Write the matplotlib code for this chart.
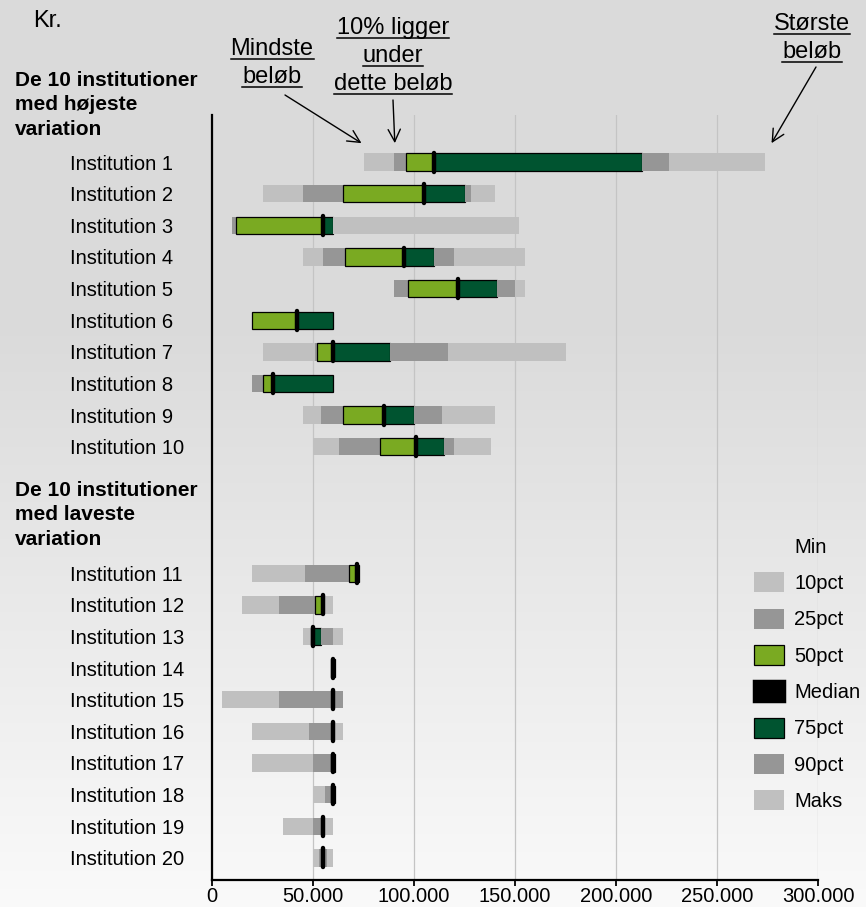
import numpy as np
import matplotlib
matplotlib.use('Agg')
import matplotlib.pyplot as plt
from matplotlib.patches import Patch
from matplotlib.lines import Line2D

plt.rcParams['font.family'] = ['Liberation Sans', 'DejaVu Sans']

# fordeling pr. institution (kr.)
institutioner = ['Institution %d' % i for i in range(1, 21)]
minimum = [75000, 25000, 10000, 45000, 90000, 20000, 25000, 20000, 45000, 50000,
           20000, 15000, 45000, 59000, 5000, 20000, 20000, 50000, 35000, 50000]
pct10 = [90000, 45000, 10000, 55000, 90000, 20000, 51000, 20000, 54000, 63000,
         46000, 33000, 49000, 59000, 33000, 48000, 50000, 56000, 50000, 53000]
pct25 = [96000, 65000, 12000, 66000, 97000, 20000, 52000, 25000, 65000, 83000,
         68000, 51000, 49000, 59000, 60000, 60000, 59000, 59000, 55000, 55000]
median = [110000, 105000, 55000, 95000, 122000, 42000, 60000, 30000, 85000, 101000,
          72000, 55000, 50000, 60000, 60000, 60000, 60000, 60000, 55000, 55000]
pct75 = [213000, 125000, 60000, 110000, 141000, 60000, 88000, 60000, 100000, 115000,
         73000, 55000, 54000, 61000, 60000, 60000, 61000, 61000, 55000, 55000]
pct90 = [226000, 128000, 60000, 120000, 150000, 60000, 117000, 60000, 114000, 120000,
         73000, 55000, 60000, 61000, 65000, 60000, 61000, 61000, 55000, 57000]
maks = [274000, 140000, 152000, 155000, 155000, 60000, 175000, 60000, 140000, 138000,
        73000, 60000, 65000, 61000, 65000, 65000, 61000, 61000, 60000, 60000]

x_ticks = [0, 50000, 100000, 150000, 200000, 250000, 300000]
x_labels = ['0', '50.000', '100.000', '150.000', '200.000', '250.000', '300.000']

LYS = '#c0c0c0'
MOERK = '#969696'
GROEN = '#7aaa22'
MGROEN = '#005430'

W, H = 866, 907
fig = plt.figure(figsize=(W / 100, H / 100), dpi=100)

# grå baggrund der lysner nedad
bg = fig.add_axes([0, 0, 1, 1], zorder=-10)
t = np.linspace(0, 1, 400)
shade = 0.855 + 0.125 * np.clip((t - 0.35) / 0.65, 0, 1)
bg.imshow(np.dstack([shade, shade, shade]).reshape(-1, 1, 3), aspect='auto',
          extent=[0, 1, 0, 1])
bg.axis('off')

ax = fig.add_axes([212 / W, 27 / H, 606 / W, 765 / H])
ax.set_facecolor('none')

ypos = np.array(list(range(10)) + list(range(13, 23)))
grenser = [np.array(v) for v in (minimum, pct10, pct25, median, pct75, pct90, maks)]
segmenter = [(LYS, 'none', 0), (MOERK, 'none', 0), (GROEN, 'black', 0.9),
             (MGROEN, 'black', 0.9), (MOERK, 'none', 0), (LYS, 'none', 0)]
for i, (farve, kant, lw) in enumerate(segmenter):
    venstre = grenser[i]
    bredde = grenser[i + 1] - venstre
    ok = bredde > 0
    ax.barh(ypos[ok], bredde[ok], left=venstre[ok], height=0.55, color=farve,
            edgecolor=kant, linewidth=lw, zorder=3)

for y, m in zip(ypos, median):
    ax.plot([m, m], [y - 0.3, y + 0.3], color='black', lw=3.2,
            solid_capstyle='round', zorder=5)

ax.set_xlim(0, 300000)
ax.set_ylim(22.7, -1.49)
ax.set_xticks(x_ticks, x_labels)
ax.set_yticks(ypos, institutioner)
for lbl in ax.get_yticklabels():
    lbl.set_ha('left')
ax.tick_params(axis='y', length=0, pad=142 * 0.72, labelsize=14.5)
ax.tick_params(axis='x', length=4.5, width=1.3, pad=0.5, labelsize=14.5)
ax.grid(axis='x', color='#c4c4c4', lw=0.9)
ax.set_axisbelow(True)
for s in ('top', 'right'):
    ax.spines[s].set_visible(False)
for s in ('left', 'bottom'):
    ax.spines[s].set_linewidth(1.6)

# gruppeoverskrifter
fig.text(15 / W, 1 - 105 / H, 'De 10 institutioner\nmed højeste\nvariation',
         fontweight='bold', fontsize=15, va='center', ha='left', linespacing=1.38)
fig.text(15 / W, 1 - 515 / H, 'De 10 institutioner\nmed laveste\nvariation',
         fontweight='bold', fontsize=15, va='center', ha='left', linespacing=1.38)

fig.text(33 / W, 1 - 21 / H, 'Kr.', fontsize=17, va='center', ha='left')

# forklarende tekster med understregning
forklaringer = []
for x, y0, linjer in [(272, 49, ['Mindste', 'beløb']),
                      (393, 28, ['10% ligger', 'under', 'dette beløb']),
                      (812, 24, ['Største', 'beløb'])]:
    for k, s in enumerate(linjer):
        forklaringer.append(fig.text(x / W, 1 - (y0 + 28 * k) / H, s, fontsize=17,
                                     ha='center', va='center'))

pil = dict(arrowstyle='->', color='black', lw=1, mutation_scale=22,
           shrinkA=0, shrinkB=0)
ax.annotate('', xy=(74000, -0.6), xytext=(285, H - 95),
            textcoords='figure pixels', arrowprops=pil)
ax.annotate('', xy=(90500, -0.6), xytext=(393, H - 100),
            textcoords='figure pixels', arrowprops=pil)
ax.annotate('', xy=(277000, -0.6), xytext=(816, H - 67),
            textcoords='figure pixels', arrowprops=pil)

handles = [Patch(facecolor='none', edgecolor='none', label='Min'),
           Patch(facecolor=LYS, label='10pct'),
           Patch(facecolor=MOERK, label='25pct'),
           Patch(facecolor=GROEN, edgecolor='black', lw=0.9, label='50pct'),
           Patch(facecolor='black', edgecolor='black', lw=2.5, joinstyle='round',
                 label='Median'),
           Patch(facecolor=MGROEN, edgecolor='black', lw=0.9, label='75pct'),
           Patch(facecolor=MOERK, label='90pct'),
           Patch(facecolor=LYS, label='Maks')]
fig.legend(handles=handles, loc='upper left', bbox_to_anchor=(754 / W, 1 - 536 / H),
           frameon=False, fontsize=14.5, handlelength=1.5, handleheight=1.15,
           labelspacing=0.77, handletextpad=0.5, borderpad=0, borderaxespad=0)

fig.canvas.draw()
inv = fig.transFigure.inverted()
for txt in forklaringer:
    bb = txt.get_window_extent()
    (xa, ya), (xb, _) = inv.transform([(bb.x0, bb.y0 + 1), (bb.x1, bb.y0 + 1)])
    fig.add_artist(Line2D([xa, xb], [ya, ya], color='black', lw=1.1,
                          transform=fig.transFigure))

fig.savefig('out.png', dpi=100)
